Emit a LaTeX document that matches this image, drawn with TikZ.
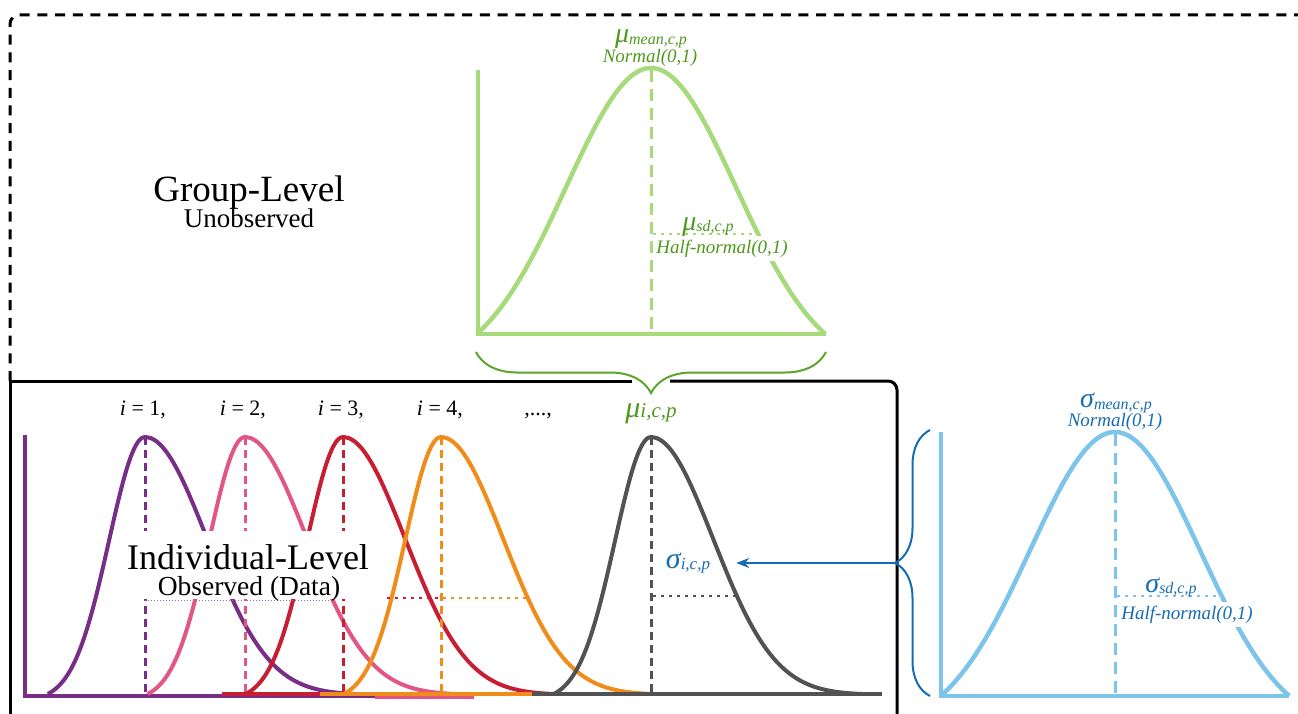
\documentclass[tikz,border=0pt]{standalone}
\usepackage{fontspec}
\setmainfont{Liberation Serif}
\usetikzlibrary{decorations.pathreplacing,arrows.meta}

\definecolor{gcurve}{RGB}{166,218,122}
\definecolor{gtext}{RGB}{78,152,28}
\definecolor{gbrace}{RGB}{92,165,42}
\definecolor{bcurve}{RGB}{125,196,235}
\definecolor{btext}{RGB}{22,108,178}
\definecolor{cpurple}{RGB}{120,45,135}
\definecolor{cpink}{RGB}{226,86,132}
\definecolor{cred}{RGB}{200,30,52}
\definecolor{corange}{RGB}{240,140,25}
\definecolor{cgray}{RGB}{82,82,82}

\newcommand{\myfs}[1]{\fontsize{#1}{#1}\selectfont}
\newcommand{\skewpdf}[2]{%
  \draw[curve,#1] plot[variable=\t,domain=-2.7:0,samples=30,smooth] ({#2+36*\t},{694-257*(exp(-0.5*\t*\t)-0.0261)/0.9739})
    -- plot[variable=\t,domain=0:3.4,samples=36,smooth] ({#2+62*\t},{694-257*(exp(-0.5*\t*\t)-0.0031)/0.9969});
  \draw[peakline,#1] (#2,437) -- (#2,694);
}
\newcommand{\bigbell}[4]{%
  \draw[bigcurve,#1] plot[variable=\t,domain=-2.05:2.05,samples=61,smooth] ({#2+85*\t},{#3-#4*(exp(-0.5*\t*\t)-0.1223)/0.8777});
}

\begin{document}
\begin{tikzpicture}[x=1pt,y=-1pt,
  curve/.style={line width=4pt,line join=round},
  bigcurve/.style={line width=4.5pt,line join=round},
  axisline/.style={line width=4pt},
  peakline/.style={line width=3pt,dash pattern=on 8pt off 5pt},
  bigpeak/.style={line width=3pt,dash pattern=on 12pt off 7pt},
  sdline/.style={line width=2.5pt,dash pattern=on 2.5pt off 5.5pt},
  boxline/.style={line width=3pt,black},
  outerdash/.style={line width=3pt,black,dash pattern=on 10pt off 7.7pt},
  lbl/.style={anchor=base,inner sep=0pt},
  hnlbl/.style={anchor=base,inner xsep=3pt,inner ysep=4pt,fill=white,font={\myfs{19}\itshape}},
  bracestyle/.style={decorate,line width=2pt}
]
\useasboundingbox (0,0) rectangle (1298,714);
\clip (0,0) rectangle (1298,714);

% frames
\draw[outerdash,rounded corners=9pt] (10,381) -- (10,15) -- (1310,15);
\draw[boxline] (10,720) -- (10,381) -- (632,381);
\draw[boxline,rounded corners=9pt] (670,381) -- (897,381) -- (897,720);

% group-level green distribution
\draw[axisline,gcurve] (478,70) -- (478,334) -- (826,334);
\bigbell{gcurve}{651}{334}{266}
\draw[bigpeak,gcurve] (651,70) -- (651,334);
\draw[sdline,gcurve] (653,234) -- (757,234);

% blue distribution
\draw[axisline,bcurve] (941,432) -- (941,696) -- (1289,696);
\bigbell{bcurve}{1115}{696}{264}
\draw[bigpeak,bcurve] (1115,434) -- (1115,696);
\draw[sdline,bcurve] (1117,596) -- (1222,596);

% individual distributions
\draw[axisline,cpurple] (25,435) -- (25,698);
\draw[axisline,cpurple] (25,696) -- (375,696);
\draw[axisline,cpink] (375,697) -- (474,697);
\skewpdf{cpurple}{145}
\skewpdf{cpink}{245}
\skewpdf{cred}{343}
\skewpdf{corange}{441}
\skewpdf{cgray}{651}
\draw[axisline,cred] (222,694) -- (320,694);
\draw[axisline,corange] (320,694) -- (532,694);
\draw[axisline,cgray] (532,694) -- (882,694);

% white panel behind the individual-level title
\fill[white] (118,531) rectangle (378,599);
\draw[line width=1pt,cpurple!70,dash pattern=on 1pt off 2pt] (145,600) -- (330,600);
\draw[sdline,cred] (387,598) -- (441,598);
\draw[sdline,corange] (443,598) -- (527,598);
\draw[sdline,cgray] (653,596) -- (736,596);

% titles
\node[lbl,font={\myfs{37}}] (gl) at (249,202) {Group-Level};
\node[lbl,font={\myfs{27}}] (glsub) at (249,228) {Unobserved};
\node[lbl,font={\myfs{36}}] (il) at (248,569) {Individual-Level};
\node[lbl,font={\myfs{27.5}}] (ilsub) at (249,595) {Observed (Data)};

% index labels
\node[lbl,font={\myfs{22}}] (i1) at (143,415) {\textit{i} = 1,};
\node[lbl,font={\myfs{22}}] (i2) at (243,415) {\textit{i} = 2,};
\node[lbl,font={\myfs{22}}] (i3) at (341,415) {\textit{i} = 3,};
\node[lbl,font={\myfs{22}}] (i4) at (440,415) {\textit{i} = 4,};
\node[lbl,font={\myfs{22}}] (idots) at (538,415) {,...,};
\node[lbl,text=gtext,font={\myfs{30}\itshape}] (muicp) at (651,417) {μ{\myfs{21}i,c,p}};

% group labels (green)
\node[lbl,text=gtext,font={\myfs{28}\itshape}] (mumean) at (651,43) {μ\raisebox{-2pt}{\myfs{16}mean,c,p}};
\node[lbl,text=gtext,font={\myfs{19}\itshape}] (mumeand) at (650,63) {Normal(0,1)};
\node[lbl,text=gtext,font={\myfs{28}\itshape}] (musd) at (708,230) {μ\raisebox{-1pt}{\myfs{16}sd,c,p}};
\node[hnlbl,text=gtext] (musdd) at (722,253) {Half-normal(0,1)};

% blue labels
\node[lbl,text=btext,font={\myfs{28}\itshape}] (sigmean) at (1116,407) {σ\raisebox{-2pt}{\myfs{16}mean,c,p}};
\node[lbl,text=btext,font={\myfs{19}\itshape}] (sigmeand) at (1115,426) {Normal(0,1)};
\node[lbl,text=btext,font={\myfs{28}\itshape}] (sigsd) at (1171,592) {σ\raisebox{-1pt}{\myfs{16}sd,c,p}};
\node[hnlbl,text=btext] (sigsdd) at (1187,619) {Half-normal(0,1)};
\node[lbl,text=btext,font={\myfs{30}\itshape}] (sigicp) at (688,568) {σ\raisebox{-1pt}{\myfs{17}i,c,p}};

% braces
\draw[bracestyle,gbrace,decoration={brace,amplitude=41pt}] (826,352) -- (476,352);
\draw[bracestyle,btext,decoration={brace,amplitude=35pt}] (930,696) -- (930,430);
\coordinate (btip) at (895,563);
\draw[btext,line width=1.8pt,-{Stealth[length=13pt,width=10pt]},shorten >=26pt] (btip) -- (btip -| sigicp.east);
\end{tikzpicture}
\end{document}
